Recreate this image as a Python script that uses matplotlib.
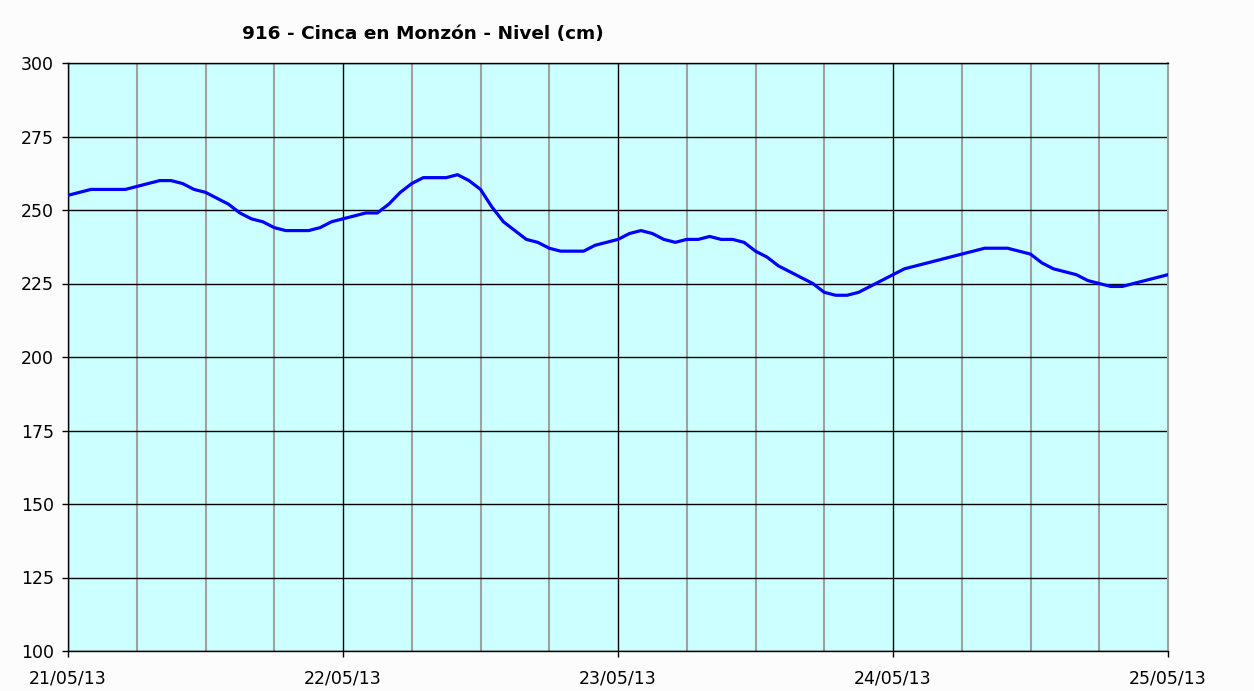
import matplotlib
matplotlib.use("Agg")
import matplotlib.pyplot as plt
import matplotlib.dates as mdates
import pandas as pd

# hourly river level (cm), starting 21/05/13 00:00
level = [255, 256, 257, 257, 257, 257, 258, 259, 260, 260,
         259, 257, 256, 254, 252, 249, 247, 246, 244, 243,
         243, 243, 244, 246, 247, 248, 249, 249, 252, 256,
         259, 261, 261, 261, 262, 260, 257, 251, 246, 243,
         240, 239, 237, 236, 236, 236, 238, 239, 240, 242,
         243, 242, 240, 239, 240, 240, 241, 240, 240, 239,
         236, 234, 231, 229, 227, 225, 222, 221, 221, 222,
         224, 226, 228, 230, 231, 232, 233, 234, 235, 236,
         237, 237, 237, 236, 235, 232, 230, 229, 228, 226,
         225, 224, 224, 225, 226, 227, 228]
start = "2013-05-21 00:00"
end = "2013-05-25 00:00"
title = "916 - Cinca en Monzón - Nivel (cm)"
yticks = [100, 125, 150, 175, 200, 225, 250, 275, 300]

times = pd.date_range(start, periods=len(level), freq="h")

fig = plt.figure(figsize=(12.54, 6.91), dpi=100, facecolor="#fcfcfc")
ax = fig.add_axes([68 / 1254, 40 / 691, 1100 / 1254, 588 / 691])
ax.set_facecolor("#ccffff")

ax.plot(times, level, color="#0000ff", linewidth=2.3, zorder=3)

ax.set_xlim(pd.Timestamp(start), pd.Timestamp(end))
ax.set_ylim(100, 300)
ax.set_yticks(yticks)

ax.xaxis.set_major_locator(mdates.DayLocator())
ax.xaxis.set_major_formatter(mdates.DateFormatter("%d/%m/%y"))
ax.xaxis.set_minor_locator(mdates.HourLocator(byhour=[6, 12, 18]))

ax.grid(True, which="minor", axis="x", color="#a0a0a0", linewidth=1.5, zorder=1)
ax.grid(True, which="major", axis="x", color="black", linewidth=1.0, zorder=2)
ax.grid(True, which="major", axis="y", color="black", linewidth=1.0, zorder=2)

ax.tick_params(axis="both", which="major", length=4, width=1, labelsize=12.5,
               colors="black")
ax.tick_params(axis="y", pad=6)
ax.tick_params(axis="x", pad=9)
ax.tick_params(axis="x", which="minor", length=0)
for s in ax.spines.values():
    s.set_color("black")
    s.set_linewidth(1.0)
ax.spines["right"].set_color("#a0a0a0")
ax.spines["right"].set_linewidth(1.5)

fig.text(423 / 1254, 1 - 34 / 691, title, ha="center", va="center",
         fontsize=13.3, fontweight="bold")

fig.savefig("out.png", dpi=100, facecolor=fig.get_facecolor())
